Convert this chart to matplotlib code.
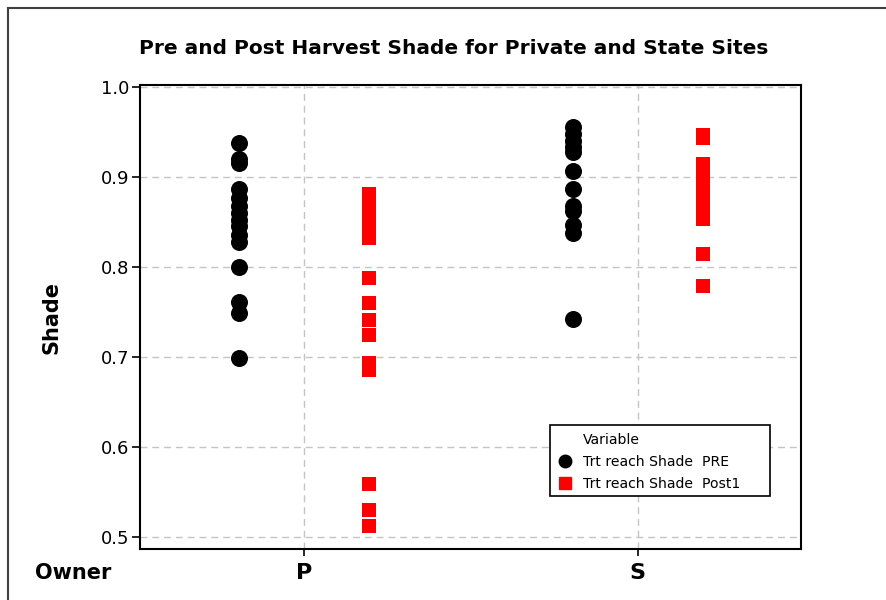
import matplotlib
matplotlib.use("Agg")
import matplotlib.pyplot as plt
from matplotlib.lines import Line2D
from matplotlib.patches import Rectangle
import numpy as np

# Shade readings by owner class (P = private, S = state)
owners = ["P", "S"]
p_pre = [0.937, 0.920, 0.915, 0.886, 0.876, 0.868, 0.860, 0.852, 0.845,
         0.836, 0.828, 0.800, 0.761, 0.749, 0.699]
p_post = [0.881, 0.872, 0.862, 0.853, 0.845, 0.838, 0.832, 0.788, 0.760,
          0.741, 0.725, 0.693, 0.686, 0.559, 0.530, 0.513]
s_pre = [0.955, 0.948, 0.940, 0.933, 0.928, 0.907, 0.887, 0.868, 0.862,
         0.846, 0.838, 0.742]
s_post = [0.946, 0.943, 0.914, 0.905, 0.895, 0.885, 0.875, 0.865, 0.858,
          0.853, 0.814, 0.779]
yticks = [0.5, 0.6, 0.7, 0.8, 0.9, 1.0]
series_names = ["Trt reach Shade  PRE", "Trt reach Shade  Post1"]

plt.rcParams["font.family"] = ["DejaVu Sans"]

W, H = 886, 600
fig = plt.figure(figsize=(W / 100, H / 100), dpi=100)
fig.patch.set_facecolor("white")

# outer frame (left and top edges visible)
fig.add_artist(Line2D([7.5 / W, 7.5 / W], [0, 1 - 7.5 / H], transform=fig.transFigure,
                      color="#404040", lw=1.5))
fig.add_artist(Line2D([7.5 / W, 1.0], [1 - 7.5 / H, 1 - 7.5 / H], transform=fig.transFigure,
                      color="#404040", lw=1.5))

left, right, top, bottom = 140, 801, 85, 549
ax = fig.add_axes([left / W, 1 - bottom / H, (right - left) / W, (bottom - top) / H])

xpos = np.arange(1, len(owners) + 1)
off = 0.195
pre_groups = [p_pre, s_pre]
post_groups = [p_post, s_post]

for x, vals in zip(xpos, pre_groups):
    ax.scatter(np.full(len(vals), x - off), vals, s=150, marker="o",
               color="black", linewidths=0, zorder=3)
for x, vals in zip(xpos, post_groups):
    ax.scatter(np.full(len(vals), x + off), vals, s=105, marker="s",
               color="#ff0000", linewidths=0, zorder=3)

ax.set_xlim(0.508, 2.49)
ax.set_ylim(0.487, 1.0019)
ax.set_yticks(yticks)
ax.set_yticklabels([f"{v:.1f}" for v in yticks], fontsize=13)
ax.set_xticks(xpos)
ax.set_xticklabels(owners, fontsize=16, fontweight="bold")
ax.tick_params(axis="y", length=6, width=1.2, pad=2)
ax.tick_params(axis="x", length=5, width=1.2, pad=5)

ax.grid(True, color="#c4c4c4", linestyle=(0, (5, 3.5)), linewidth=1.0)
ax.set_axisbelow(True)
for sp in ax.spines.values():
    sp.set_linewidth(1.5)
    sp.set_color("black")

ax.set_ylabel("Shade", fontsize=15, fontweight="bold", labelpad=28)

fig.text(454 / W, 1 - 49 / H, "Pre and Post Harvest Shade for Private and State Sites",
         ha="center", va="center", fontsize=14.5, fontweight="bold")
fig.text(35 / W, 1 - 573 / H, "Owner", ha="left", va="center",
         fontsize=15, fontweight="bold")

# legend frame
fig.add_artist(Rectangle((550 / W, 1 - 496 / H), 220 / W, 71 / H,
                         transform=fig.transFigure, facecolor="white",
                         edgecolor="black", linewidth=1.2, zorder=4))
handles = [Line2D([], [], linestyle="none", marker=None),
           Line2D([], [], linestyle="none", marker="o", color="black", markersize=9),
           Line2D([], [], linestyle="none", marker="s", color="#ff0000", markersize=8.5)]
labels = ["Variable"] + series_names
leg = fig.legend(handles, labels, loc="upper left",
                 bbox_to_anchor=(558 / W, 1 - 433 / H), bbox_transform=fig.transFigure,
                 fontsize=10.1, frameon=False, handlelength=1.0, handletextpad=0.75,
                 labelspacing=0.56, borderpad=0.0, borderaxespad=0)
leg.set_zorder(5)

fig.savefig("out.png", dpi=100)
